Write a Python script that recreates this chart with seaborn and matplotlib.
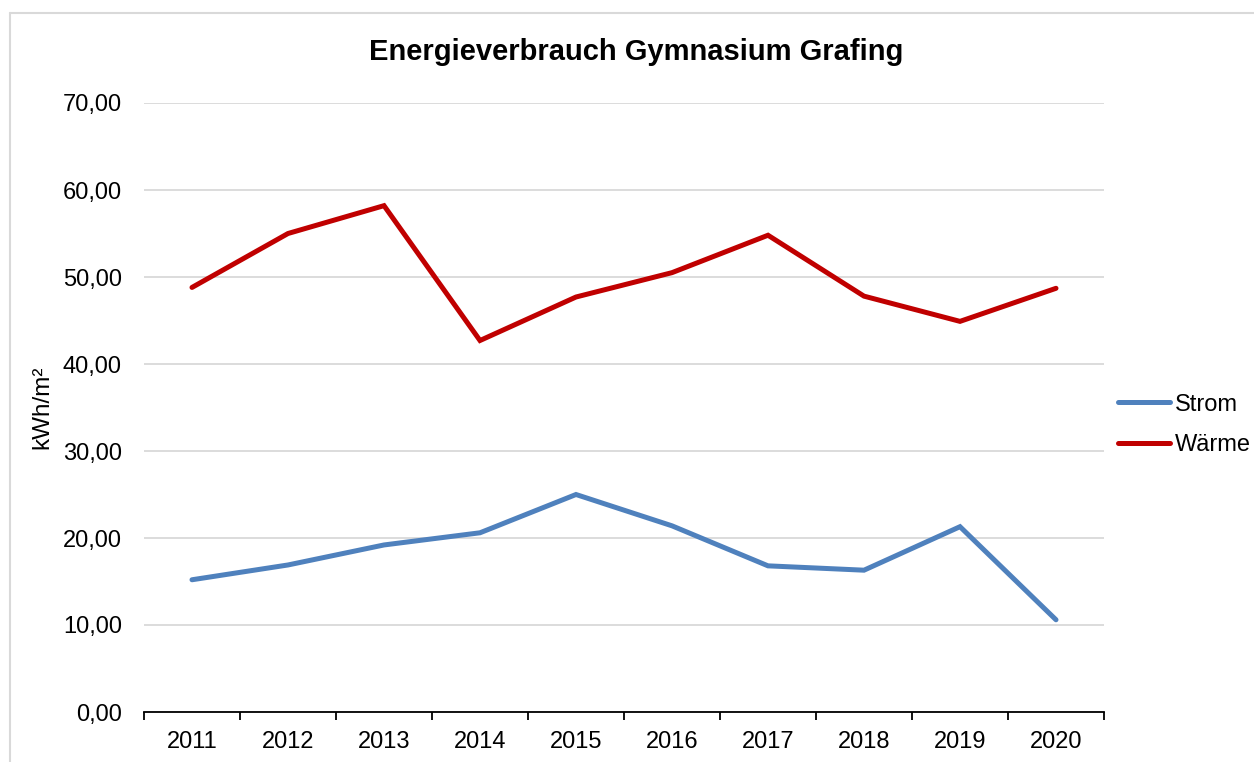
import matplotlib
matplotlib.use('Agg')
import matplotlib.pyplot as plt
import matplotlib.ticker as mticker
from matplotlib.lines import Line2D
import pandas as pd
import seaborn as sns

years = ['2011', '2012', '2013', '2014', '2015', '2016', '2017', '2018', '2019', '2020']
strom = [15.2, 16.9, 19.2, 20.6, 25.0, 21.4, 16.8, 16.3, 21.3, 10.6]
waerme = [48.8, 55.0, 58.2, 42.7, 47.7, 50.5, 54.8, 47.8, 44.9, 48.7]
series = ['Strom', 'Wärme']
colors = ['#4F81BD', '#C00000']

df = pd.DataFrame({
    'pos': list(range(len(years))) * 2,
    'Jahr': years * 2,
    'Wert': strom + waerme,
    'Serie': ['Strom'] * len(years) + ['Wärme'] * len(years),
})

sns.set_style('white')
plt.rcParams['font.family'] = ['Liberation Sans', 'DejaVu Sans']
plt.rcParams['text.color'] = 'black'
plt.rcParams['axes.labelcolor'] = 'black'

fs = 17

fig = plt.figure(figsize=(12.54, 7.62), dpi=100)
ax = fig.add_axes([144 / 1254, 1 - 712 / 762, 960 / 1254, 609 / 762])

sns.lineplot(data=df, x='pos', y='Wert', hue='Serie', hue_order=series,
             palette=colors, linewidth=3.6, ax=ax, legend=False,
             solid_capstyle='round', solid_joinstyle='miter')

ax.set_xlim(-0.5, len(years) - 0.5)
ax.set_ylim(0, 70)
ax.yaxis.set_major_locator(mticker.MultipleLocator(10))
ax.yaxis.set_major_formatter(mticker.FuncFormatter(lambda v, p: f'{v:.2f}'.replace('.', ',')))
ax.grid(axis='y', color='#d9d9d9', linewidth=1.3)
ax.set_axisbelow(True)

# ticks between categories, labels centred on them
ax.xaxis.set_major_locator(mticker.FixedLocator([i - 0.5 for i in range(len(years) + 1)]))
ax.xaxis.set_major_formatter(mticker.NullFormatter())
ax.xaxis.set_minor_locator(mticker.FixedLocator(range(len(years))))
ax.xaxis.set_minor_formatter(mticker.FixedFormatter(years))
ax.tick_params(axis='x', which='major', direction='out', length=6, width=1.3, color='black', bottom=True)
ax.tick_params(axis='x', which='minor', length=0, pad=14, labelsize=fs, labelcolor='black')
ax.tick_params(axis='y', length=0, pad=16, labelsize=fs, labelcolor='black')

for s in ['top', 'right', 'left']:
    ax.spines[s].set_visible(False)
ax.spines['bottom'].set_color('black')
ax.spines['bottom'].set_linewidth(1.3)

ax.set_xlabel('')
ax.set_ylabel('kWh/m²', fontsize=17.5, labelpad=7)
fig.text(636 / 1254, 1 - 52 / 762, 'Energieverbrauch Gymnasium Grafing',
         ha='center', va='center', fontsize=21, fontweight='bold')

handles = [Line2D([0], [0], color=c, linewidth=3.6, solid_capstyle='round') for c in colors]
fig.legend(handles, series, loc='center left', bbox_to_anchor=(1118 / 1254, 1 - 425 / 762),
           frameon=False, fontsize=fs, handlelength=2.2, handletextpad=0.2,
           labelspacing=0.8, borderpad=0, borderaxespad=0)

# outer chart border
fig.add_artist(Line2D([10 / 1254, 1.0], [1 - 13 / 762, 1 - 13 / 762],
                      transform=fig.transFigure, color='#d9d9d9', linewidth=1.5))
fig.add_artist(Line2D([10 / 1254, 10 / 1254], [0, 1 - 13 / 762],
                      transform=fig.transFigure, color='#d9d9d9', linewidth=1.5))

fig.savefig('out.png', dpi=100)
